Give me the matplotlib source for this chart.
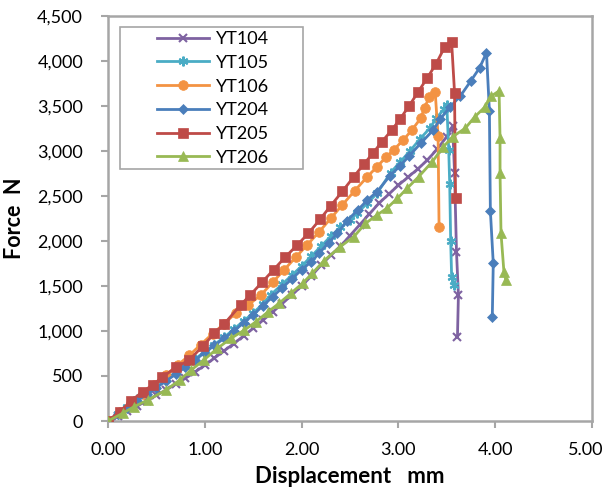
import matplotlib
matplotlib.use("Agg")
import matplotlib.pyplot as plt
from matplotlib.patches import Rectangle
from matplotlib.ticker import FuncFormatter, MultipleLocator
from matplotlib.transforms import ScaledTranslation

plt.rcParams['font.family'] = ['Lato', 'DejaVu Sans']

labels = ["YT104", "YT105", "YT106", "YT204", "YT205", "YT206"]

yt104_x = [0.00, 0.10, 0.20, 0.30, 0.40, 0.50, 0.60, 0.70, 0.80, 0.90, 1.00, 1.10, 1.20, 1.30,
           1.40, 1.50, 1.60, 1.70, 1.80, 1.90, 2.00, 2.10, 2.20, 2.30, 2.40, 2.50, 2.60, 2.70,
           2.80, 2.90, 3.00, 3.10, 3.20, 3.30, 3.40, 3.50, 3.56, 3.58, 3.60, 3.62, 3.61]
yt104_y = [0, 55, 110, 165, 225, 285, 345, 410, 475, 545, 620, 700, 780, 860,
           945, 1030, 1120, 1210, 1305, 1400, 1500, 1610, 1730, 1840, 1940, 2060, 2180, 2300,
           2420, 2520, 2620, 2710, 2800, 2900, 3020, 3160, 3278, 2759, 1881, 1400, 930]

yt105_x = [0.00, 0.10, 0.20, 0.30, 0.40, 0.50, 0.60, 0.70, 0.80, 0.90, 1.00, 1.10, 1.20, 1.30,
           1.40, 1.50, 1.60, 1.68, 1.80, 1.90, 2.00, 2.10, 2.20, 2.30, 2.40, 2.50, 2.57, 2.68,
           2.78, 2.92, 3.02, 3.12, 3.22, 3.33, 3.39, 3.47, 3.50, 3.52, 3.53, 3.54, 3.55, 3.57]
yt105_y = [0, 80, 160, 240, 315, 390, 465, 540, 615, 690, 770, 850, 930, 1020,
           1110, 1200, 1300, 1400, 1520, 1620, 1720, 1830, 1940, 2050, 2150, 2230, 2307, 2420,
           2530, 2760, 2880, 3000, 3130, 3260, 3363, 3463, 3511, 3011, 2633, 2004, 1604, 1511]

yt106_x = [0.00, 0.12, 0.24, 0.36, 0.48, 0.60, 0.72, 0.84, 0.96, 1.08, 1.20, 1.32, 1.45, 1.58,
           1.70, 1.82, 1.94, 2.06, 2.18, 2.30, 2.42, 2.55, 2.68, 2.78, 2.87, 2.95, 3.05, 3.14,
           3.23, 3.27, 3.32, 3.38, 3.41, 3.42]
yt106_y = [0, 95, 200, 300, 400, 510, 620, 730, 850, 970, 1080, 1200, 1290, 1400,
           1540, 1680, 1820, 1960, 2100, 2250, 2400, 2560, 2715, 2826, 2930, 3011, 3122, 3233,
           3363, 3480, 3604, 3659, 3167, 2152]

yt204_x = [0.00, 0.10, 0.20, 0.30, 0.40, 0.50, 0.60, 0.70, 0.80, 0.90, 1.00, 1.10, 1.20, 1.30,
           1.40, 1.50, 1.60, 1.70, 1.80, 1.90, 2.00, 2.10, 2.18, 2.28, 2.37, 2.47, 2.58, 2.68,
           2.78, 2.91, 3.02, 3.11, 3.23, 3.36, 3.43, 3.53, 3.64, 3.75, 3.84, 3.91, 3.94, 3.95,
           3.98, 3.97]
yt204_y = [0, 75, 150, 225, 295, 370, 445, 520, 600, 680, 760, 840, 920, 1000,
           1090, 1180, 1280, 1380, 1480, 1580, 1680, 1770, 1863, 1981, 2085, 2226, 2344, 2455,
           2548, 2722, 2837, 2944, 3085, 3233, 3352, 3485, 3611, 3781, 3926, 4093, 3448, 2337,
           1752, 1159]

yt205_x = [0.00, 0.12, 0.24, 0.36, 0.46, 0.56, 0.70, 0.84, 0.98, 1.10, 1.20, 1.37, 1.47, 1.59,
           1.71, 1.83, 1.95, 2.07, 2.19, 2.30, 2.42, 2.54, 2.64, 2.74, 2.83, 2.93, 3.02, 3.11,
           3.20, 3.30, 3.39, 3.48, 3.55, 3.58, 3.59]
yt205_y = [0, 104, 226, 326, 400, 485, 596, 678, 833, 974, 1078, 1289, 1400, 1540,
           1680, 1820, 1950, 2085, 2240, 2390, 2550, 2715, 2850, 2980, 3104, 3230, 3360, 3500,
           3650, 3815, 3970, 4159, 4207, 3648, 2474]

yt206_x = [0.00, 0.15, 0.27, 0.41, 0.60, 0.74, 0.86, 0.99, 1.13, 1.27, 1.41, 1.53, 1.65, 1.77,
           1.89, 2.01, 2.11, 2.23, 2.40, 2.54, 2.66, 2.78, 2.88, 2.99, 3.09, 3.21, 3.35, 3.46,
           3.56, 3.69, 3.79, 3.89, 3.96, 4.04, 4.05, 4.05, 4.06, 4.09, 4.11]
yt206_y = [0, 85, 159, 233, 344, 455, 567, 678, 807, 918, 1011, 1104, 1210, 1310,
           1420, 1530, 1640, 1780, 1937, 2048, 2196, 2289, 2363, 2474, 2585, 2715, 2881, 3041,
           3159, 3252, 3381, 3485, 3611, 3667, 3141, 2752, 2085, 1659, 1567]

xs = [yt104_x, yt105_x, yt106_x, yt204_x, yt205_x, yt206_x]
ys = [yt104_y, yt105_y, yt106_y, yt204_y, yt205_y, yt206_y]
colors = ["#7E62A1", "#4AACC5", "#F39343", "#4A7EBB", "#BE4B48", "#98B954"]
markers = ["x", (6, 2, 0), "o", "D", "s", "^"]
msizes = [6, 7, 7, 5.5, 7, 7.5]

fig = plt.figure(figsize=(6.08, 4.90), dpi=100)
ax = fig.add_axes([108/608, 1 - 421/490, (592-108)/608, (421-16)/490])

handles = []
for x, y, c, m, s, lab in zip(xs, ys, colors, markers, msizes, labels):
    h, = ax.plot(x, y, color=c, marker=m, markersize=s, linewidth=2.0,
                 markeredgewidth=1.5 if m in ("x", (6, 2, 0)) else 0.5,
                 markeredgecolor=c, markerfacecolor=c, label=lab, zorder=3)
    handles.append(h)

ax.set_xlim(0, 5)
ax.set_ylim(0, 4500)
ax.xaxis.set_major_locator(MultipleLocator(1))
ax.yaxis.set_major_locator(MultipleLocator(500))
ax.xaxis.set_major_formatter(FuncFormatter(lambda v, p: f"{v:.2f}"))
ax.yaxis.set_major_formatter(FuncFormatter(lambda v, p: f"{int(v):,}"))

for sp in ax.spines.values():
    sp.set_color("#A6A6A6")
    sp.set_linewidth(1.8)
ax.tick_params(axis='both', direction='out', length=5, width=1.5, color="#A6A6A6",
               labelsize=13, labelcolor="black")
ax.tick_params(axis='y', pad=13)
ax.tick_params(axis='x', pad=10)

ax.set_xlabel("Displacement   mm", fontsize=16, fontweight='bold', labelpad=6)
ax.set_ylabel("Force  N", fontsize=15.5, fontweight='bold', labelpad=9)

# keep the last x tick label inside the figure edge
fig.canvas.draw()
for t in ax.xaxis.get_major_ticks():
    if abs(t.get_loc() - 5.0) < 1e-9:
        t.label1.set_transform(t.label1.get_transform() +
                               ScaledTranslation(-6/100, 0, fig.dpi_scale_trans))

# legend box
ax.add_patch(Rectangle((12/484, (421-169)/405), (303-120)/484, (169-27)/405,
                       transform=ax.transAxes, facecolor="white", edgecolor="#A6A6A6",
                       linewidth=1.2, zorder=4))
leg = ax.legend(handles=handles, loc='upper left',
                bbox_to_anchor=((157-108)/484, (421-31)/405),
                frameon=False, fontsize=13, handlelength=2.9, handletextpad=0.35,
                labelspacing=0.43, borderpad=0, borderaxespad=0)
leg.set_zorder(5)

fig.savefig("out.png", dpi=100)
